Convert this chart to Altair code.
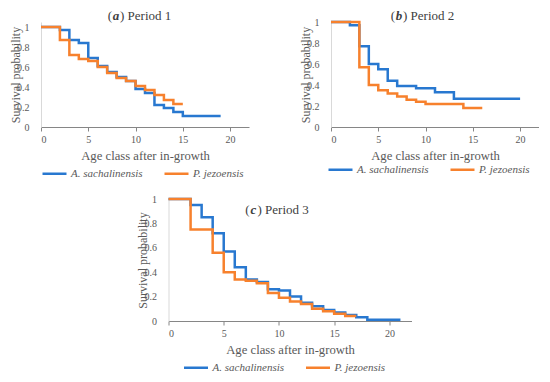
import altair as alt
import pandas as pd

SPECIES = ["A. sachalinensis", "P. jezoensis"]
COLORS = ["#2878D0", "#F7812D"]

# Panel (a) Period 1
P1_A_x = [0, 2, 3, 4, 5, 6, 7, 8, 9, 10, 11, 12, 13, 14, 15, 19]
P1_A_y = [1, 0.97, 0.87, 0.84, 0.69, 0.61, 0.55, 0.50, 0.46, 0.38, 0.34, 0.22, 0.19, 0.15, 0.11, 0.11]
P1_P_x = [0, 2, 3, 4, 5, 6, 7, 8, 9, 10, 11, 12, 13, 14, 15]
P1_P_y = [1, 0.87, 0.72, 0.68, 0.66, 0.60, 0.54, 0.49, 0.46, 0.41, 0.37, 0.32, 0.27, 0.23, 0.23]

# Panel (b) Period 2
P2_A_x = [0, 2, 3, 4, 5, 6, 7, 9, 11, 13, 20]
P2_A_y = [1, 0.97, 0.77, 0.60, 0.55, 0.44, 0.39, 0.37, 0.33, 0.27, 0.27]
P2_P_x = [0, 3, 4, 5, 6, 7, 8, 9, 10, 14, 16]
P2_P_y = [1, 0.57, 0.40, 0.35, 0.32, 0.29, 0.26, 0.24, 0.22, 0.18, 0.18]

# Panel (c) Period 3
P3_A_x = [0, 2, 3, 4, 5, 6, 7, 8, 9, 10, 11, 12, 13, 14, 15, 16, 17, 18, 21]
P3_A_y = [1, 0.95, 0.85, 0.72, 0.57, 0.44, 0.34, 0.32, 0.26, 0.25, 0.20, 0.15, 0.12, 0.09, 0.07, 0.05, 0.03, 0.01, 0.01]
P3_P_x = [0, 2, 4, 5, 6, 7, 8, 9, 10, 11, 12, 13, 14, 15, 16, 17]
P3_P_y = [1, 0.75, 0.56, 0.40, 0.34, 0.33, 0.31, 0.23, 0.19, 0.16, 0.14, 0.10, 0.08, 0.06, 0.04, 0.04]

X_TICKS = [0, 5, 10, 15, 20]
Y_TICKS = [0, 0.2, 0.4, 0.6, 0.8, 1]

FONT = "Liberation Serif"
GREY = "#595959"


def panel(xa, ya, xp, yp, w, h, ymax, letter, rest, tx, ty, lx, ly):
    dfa = pd.DataFrame({"x": xa, "y": ya, "species": SPECIES[0]})
    dfp = pd.DataFrame({"x": xp, "y": yp, "species": SPECIES[1]})
    xenc = alt.X("x:Q", scale=alt.Scale(domain=[0, 22], nice=False),
                 axis=alt.Axis(values=X_TICKS, title="Age class after in-growth",
                               domainColor="#868686", tickColor="#868686",
                               ticks=True, tickSize=4, labelPadding=3, titlePadding=5,
                               titleFontSize=12.7))
    yenc = alt.Y("y:Q", scale=alt.Scale(domain=[0, ymax], nice=False),
                 axis=alt.Axis(values=Y_TICKS, title="Survival probability",
                               domainColor="#d9d9d9", ticks=False, labelPadding=12,
                               titleX=-19, titleY=h / 2, titleAnchor="middle",
                               labelExpr="datum.value == 0 ? '0' : datum.value == 1 ? '1' : format(datum.value, '.1f')"))
    cenc = alt.Color("species:N", scale=alt.Scale(domain=SPECIES, range=COLORS),
                     legend=alt.Legend(title=None, orient="none", legendX=lx, legendY=ly,
                                       direction="horizontal",
                                       symbolType="stroke", symbolSize=576,
                                       symbolStrokeWidth=2.5, labelFontStyle="italic",
                                       labelFont=FONT, labelFontSize=11, labelColor=GREY,
                                       columnPadding=16, labelOffset=3, padding=0))
    la = alt.Chart(dfa).mark_line(interpolate="step-after", strokeWidth=2.5).encode(x=xenc, y=yenc, color=cenc)
    lp = alt.Chart(dfp).mark_line(interpolate="step-after", strokeWidth=2.5).encode(x=xenc, y=yenc, color=cenc)
    t1 = alt.Chart(pd.DataFrame({"t": ["("]})).mark_text(
        font=FONT, fontSize=13, color="#404040", align="right", baseline="middle"
    ).encode(text="t:N", x=alt.value(tx - 4), y=alt.value(ty))
    t2 = alt.Chart(pd.DataFrame({"t": [letter]})).mark_text(
        font=FONT, fontSize=13, color="#404040", align="center", baseline="middle",
        fontStyle="italic", fontWeight="bold"
    ).encode(text="t:N", x=alt.value(tx), y=alt.value(ty))
    t3 = alt.Chart(pd.DataFrame({"t": [rest]})).mark_text(
        font=FONT, fontSize=13, color="#404040", align="left", baseline="middle"
    ).encode(text="t:N", x=alt.value(tx + 4), y=alt.value(ty))
    return alt.layer(la, lp, t1, t2, t3).properties(width=w, height=h)


pa = panel(P1_A_x, P1_A_y, P1_P_x, P1_P_y, 208, 105, 1.05, "a", ") Period 1", 75, -6, 0, 138)
pb = panel(P2_A_x, P2_A_y, P2_P_x, P2_P_y, 208, 105, 1.0, "b", ") Period 2", 68, -6, -4, 134)
pc = panel(P3_A_x, P3_A_y, P3_P_x, P3_P_y, 243, 122, 1.0, "c", ") Period 3", 85, 11, 14, 155)

top = alt.hconcat(pa, pb, spacing=49).resolve_scale(color="independent")
chart = alt.vconcat(top, pc, spacing=15, center=True).resolve_scale(color="independent").properties(
    padding={"left": 0, "top": 2, "right": 0, "bottom": 0}
).configure_view(stroke=None).configure_axis(
    grid=False, labelFont=FONT, labelFontSize=10, labelColor=GREY,
    titleFont=FONT, titleFontSize=12, titleColor=GREY, titleFontWeight="normal"
)

chart.save("out.html", embed_options={"renderer": "svg", "actions": False})
